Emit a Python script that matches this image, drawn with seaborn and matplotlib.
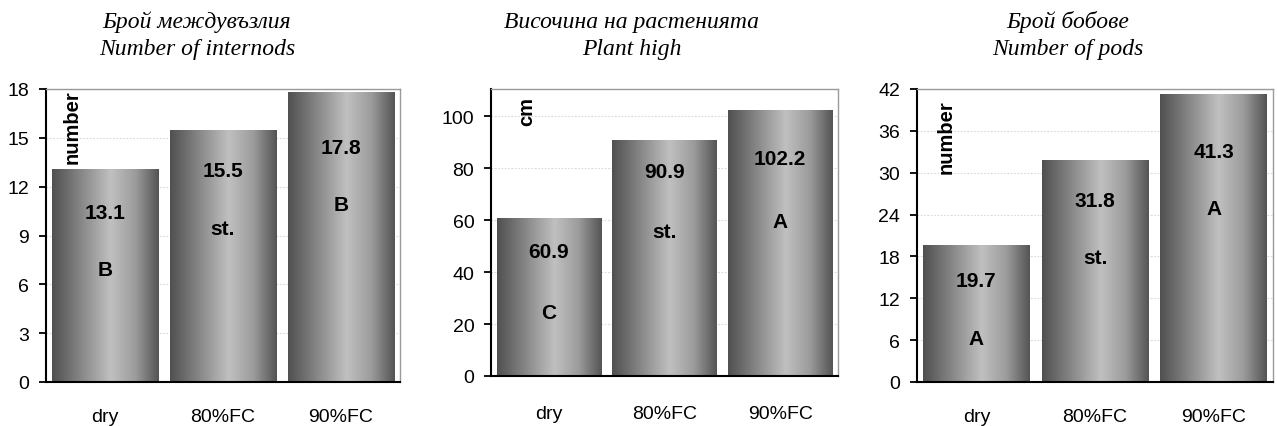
import numpy as np
import pandas as pd
import matplotlib
matplotlib.use("Agg")
import matplotlib.pyplot as plt
from matplotlib.colors import LinearSegmentedColormap
import seaborn as sns

# ---- data ----
categories = ["dry", "80%FC", "90%FC"]

internodes = [13.1, 15.5, 17.8]
internodes_letters = ["B", "st.", "B"]
internodes_val_y = [10.4, 13.0, 14.4]
internodes_let_y = [6.9, 9.4, 10.9]

height = [60.9, 90.9, 102.2]
height_letters = ["C", "st.", "A"]
height_val_y = [47.7, 78.8, 83.5]
height_let_y = [24.6, 55.4, 59.6]

pods = [19.7, 31.8, 41.3]
pods_letters = ["A", "st.", "A"]
pods_val_y = [14.5, 26.0, 33.0]
pods_let_y = [6.2, 17.9, 24.8]

titles_bg = ["Брой междувъзлия", "Височина на растенията", "Брой бобове"]
titles_en = ["Number of internods", "Plant high", "Number of pods"]
units = ["number", "cm", "number"]
yticks_list = [np.arange(0, 19, 3), np.arange(0, 101, 20), np.arange(0, 43, 6)]
ylims = [18, 110.4, 42]

sns.set_style("white")
plt.rcParams["font.family"] = ["Liberation Sans", "DejaVu Sans"]
plt.rcParams["text.color"] = "black"
plt.rcParams["xtick.color"] = "black"
plt.rcParams["ytick.color"] = "black"
plt.rcParams["axes.labelcolor"] = "black"

fig = plt.figure(figsize=(12.77, 4.27), dpi=100)
W, H = 1277, 427
boxes = [(46, 400, 90, 383), (491, 838, 90, 377), (917, 1273, 90, 383)]
title_x = [197, 632, 1068]
xpads = [19, 21, 19]
unit_pos = [(0.073, 1.0), (0.104, 0.976), (0.081, 0.966)]

cmap = LinearSegmentedColormap.from_list(
    "cyl",
    [(0.0, "#505050"), (0.15, "#6e6e6e"), (0.55, "#c0c0c0"),
     (0.78, "#9c9c9c"), (1.0, "#545454")])
grad = np.linspace(0, 1, 256).reshape(1, -1)

panels = [
    (internodes, internodes_letters, internodes_val_y, internodes_let_y),
    (height, height_letters, height_val_y, height_let_y),
    (pods, pods_letters, pods_val_y, pods_let_y),
]

for i, (vals, letters, vy, ly) in enumerate(panels):
    l, r, t, b = boxes[i]
    ax = fig.add_axes([l / W, 1 - b / H, (r - l) / W, (b - t) / H])
    df = pd.DataFrame({"cat": categories, "val": vals})
    sns.barplot(data=df, x="cat", y="val", ax=ax, width=0.9,
                color="#888888", saturation=1, edgecolor="none")
    for p in list(ax.patches):
        x0, y0 = p.get_x(), p.get_y()
        w, h = p.get_width(), p.get_height()
        p.set_facecolor("none")
        im = ax.imshow(grad, cmap=cmap, aspect="auto",
                       extent=[x0, x0 + w, y0, y0 + h], zorder=2,
                       interpolation="bilinear")
        im.set_clip_path(p)
    ax.set_xlim(-0.5, 2.5)
    ax.set_ylim(0, ylims[i])
    ax.set_yticks(yticks_list[i])
    ax.set_xticks(range(len(categories)))
    ax.set_xticklabels(categories)
    ax.set_xticks([-0.5, 0.5, 1.5, 2.5], minor=True)
    ax.tick_params(axis="x", which="major", length=0, pad=xpads[i], labelsize=14)
    ax.tick_params(axis="x", which="minor", length=6, width=1.3, direction="out",
                   color="black")
    ax.tick_params(axis="y", length=5, width=1.3, direction="out", pad=7,
                   labelsize=14, left=True, color="black")
    ax.set_xlabel("")
    ax.set_ylabel("")
    ax.grid(axis="y", color="#d8d8d8", linestyle=(0, (1.5, 1.5)), linewidth=0.8)
    ax.set_axisbelow(True)
    for s in ["left", "bottom"]:
        ax.spines[s].set_color("black")
        ax.spines[s].set_linewidth(1.5)
    for s in ["top", "right"]:
        ax.spines[s].set_color("#9a9a9a")
        ax.spines[s].set_linewidth(1.0)
    for j in range(len(categories)):
        ax.text(j, vy[j], f"{vals[j]}", ha="center", va="center",
                fontsize=15, fontweight="bold", zorder=5)
        ax.text(j, ly[j], letters[j], ha="center", va="center",
                fontsize=15, fontweight="bold", zorder=5)
    ux, uy = unit_pos[i]
    ax.text(ux, uy, units[i], transform=ax.transAxes, rotation=90,
            ha="center", va="top", fontsize=14.5, fontweight="bold", zorder=5)
    fig.text(title_x[i] / W, 1 - 28 / H, titles_bg[i], ha="center",
             va="baseline", fontsize=17, style="italic",
             family=["Liberation Serif", "DejaVu Serif"])
    fig.text(title_x[i] / W, 1 - 55 / H, titles_en[i], ha="center",
             va="baseline", fontsize=17, style="italic",
             family=["Liberation Serif", "DejaVu Serif"])

fig.savefig("out.png", dpi=100)
